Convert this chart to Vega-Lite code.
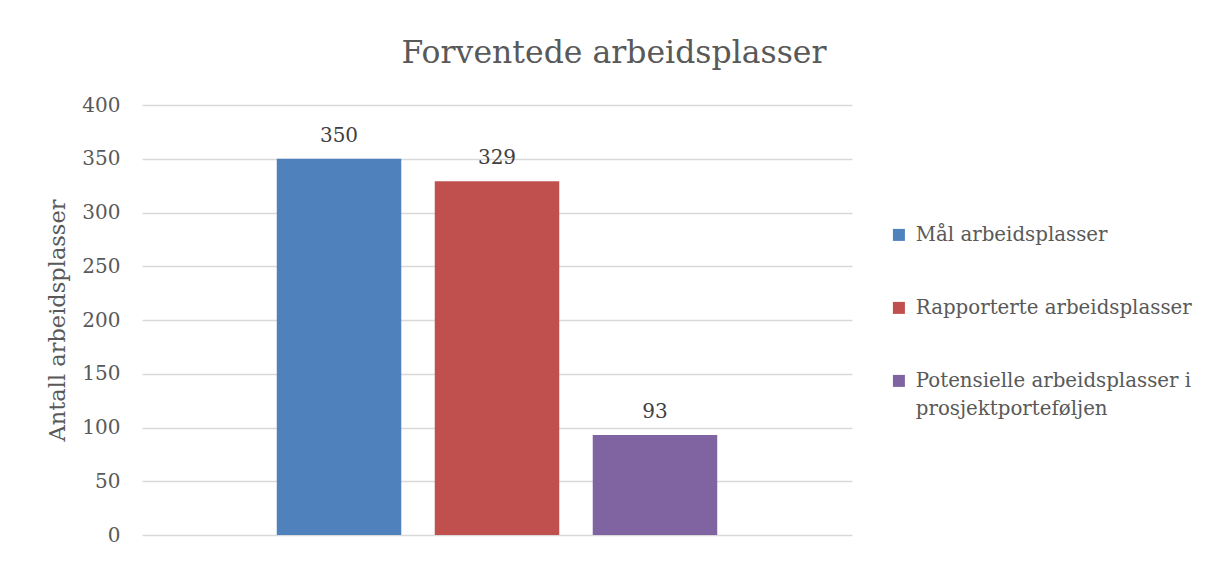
{
  "$schema": "https://vega.github.io/schema/vega-lite/v6.json",
  "width": 710,
  "height": 430,
  "autosize": {"type": "none"},
  "padding": {"left": 142, "top": 105, "right": 366, "bottom": 26},
  "background": "white",
  "config": {
    "font": "DejaVu Serif",
    "view": {"stroke": null},
    "style": {"guide-label": {"lineHeight": 28}}
  },
  "title": {
    "text": "Forventede arbeidsplasser",
    "fontSize": 31.5,
    "fontWeight": "normal",
    "color": "#595959",
    "font": "DejaVu Serif",
    "anchor": "middle",
    "dx": 117,
    "offset": 26
  },
  "data": {
    "values": [
      {"serie": "Mål arbeidsplasser", "verdi": 350},
      {"serie": "Rapporterte arbeidsplasser", "verdi": 329},
      {"serie": "Potensielle arbeidsplasser i prosjektporteføljen", "verdi": 93}
    ]
  },
  "encoding": {
    "x": {
      "field": "serie",
      "type": "nominal",
      "sort": null,
      "axis": null,
      "scale": {"paddingInner": 0.212, "paddingOuter": 0.853}
    },
    "y": {
      "field": "verdi",
      "type": "quantitative",
      "scale": {"domain": [0, 400]},
      "axis": {
        "title": "Antall arbeidsplasser",
        "titleFontSize": 22.5,
        "titleFontWeight": "normal",
        "titleColor": "#595959",
        "titlePadding": 12,
        "values": [0, 50, 100, 150, 200, 250, 300, 350, 400],
        "labelFontSize": 20,
        "labelColor": "#595959",
        "labelPadding": 22,
        "ticks": false,
        "domain": false,
        "grid": true,
        "gridColor": "#D9D9D9",
        "gridWidth": 1.3
      }
    }
  },
  "layer": [
    {
      "mark": {"type": "bar"},
      "encoding": {
        "color": {
          "field": "serie",
          "type": "nominal",
          "sort": null,
          "scale": {
            "domain": ["Mål arbeidsplasser", "Rapporterte arbeidsplasser", "Potensielle arbeidsplasser i prosjektporteføljen"],
            "range": ["#4F81BD", "#C0504D", "#8064A2"]
          },
          "legend": {
            "title": null,
            "orient": "none",
            "legendX": 747,
            "legendY": 120,
            "symbolType": "square",
            "symbolSize": 144,
            "symbolStrokeWidth": 0,
            "labelFontSize": 19.8,
            "labelColor": "#595959",
            "labelOffset": 7,
            "labelLimit": 400,
            "rowPadding": 52,
            "labelExpr": "datum.label == 'Potensielle arbeidsplasser i prosjektporteføljen' ? ['Potensielle arbeidsplasser i', 'prosjektporteføljen'] : datum.label"
          }
        }
      }
    },
    {
      "mark": {"type": "text", "baseline": "bottom", "dy": -13, "fontSize": 20, "color": "#404040"},
      "encoding": {
        "text": {"field": "verdi", "type": "quantitative"}
      }
    }
  ]
}
